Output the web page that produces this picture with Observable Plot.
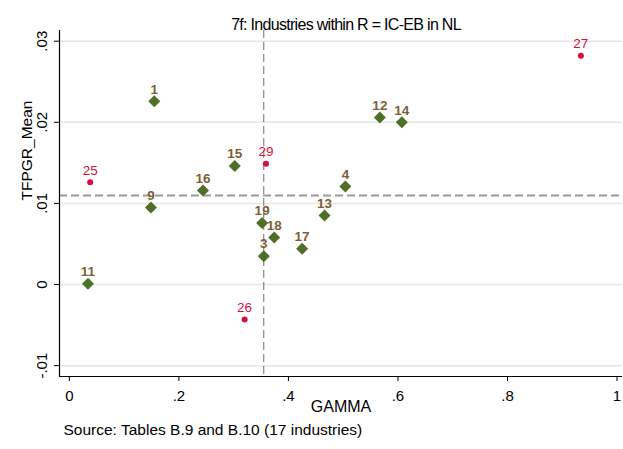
<!DOCTYPE html>
<html>
<head>
<meta charset="utf-8">
<script src="https://cdn.jsdelivr.net/npm/d3@7"></script>
<script src="https://cdn.jsdelivr.net/npm/@observablehq/plot@0.6"></script>
<style>
  html, body { margin: 0; padding: 0; background: #fff; }
  svg { display: block; font-family: "Liberation Sans", Arial, sans-serif; }
</style>
</head>
<body>
<div id="chart"></div>
<script>
// Industries shown as green diamonds
const greenIds   = ["1", "3", "4", "9", "11", "12", "13", "14", "15", "16", "17", "18", "19"];
const greenGamma = [0.155, 0.355, 0.504, 0.149, 0.034, 0.567, 0.466, 0.607, 0.302, 0.244, 0.425, 0.374, 0.352];
const greenTfp   = [0.0226, 0.0035, 0.0121, 0.0095, 0.0001, 0.0206, 0.0085, 0.0200, 0.0146, 0.0116, 0.0044, 0.0058, 0.0076];

// Industries shown as red dots
const redIds   = ["25", "26", "27", "29"];
const redGamma = [0.038, 0.320, 0.934, 0.359];
const redTfp   = [0.0126, -0.0043, 0.0282, 0.0149];

// Reference lines (means)
const refGamma = 0.355;
const refTfp = 0.01097;

// Axes
const xTicks = [0, 0.2, 0.4, 0.6, 0.8, 1];
const xTickLabels = ["0", ".2", ".4", ".6", ".8", "1"];
const yTicks = [-0.01, 0, 0.01, 0.02, 0.03];
const yTickLabels = ["-.01", "0", ".01", ".02", ".03"];
const xDomain = [-0.018, 1.01];
const yDomain = [-0.01134, 0.03132];

const titleText = "7f: Industries within R = IC-EB in NL";
const xLabel = "GAMMA";
const yLabel = "TFPGR_Mean";
const captionText = "Source: Tables B.9 and B.10 (17 industries)";

const green = greenIds.map((id, i) => ({id, x: greenGamma[i], y: greenTfp[i]}));
const red = redIds.map((id, i) => ({id, x: redGamma[i], y: redTfp[i]}));

const font = "Liberation Sans, Arial, sans-serif";

const chart = Plot.plot({
  width: 623,
  height: 449,
  marginLeft: 59,
  marginRight: 1,
  marginTop: 30,
  marginBottom: 73,
  style: {fontFamily: font, background: "#fff"},
  x: {domain: xDomain},
  y: {domain: yDomain},
  marks: [
    // horizontal gridlines
    Plot.ruleY(yTicks, {stroke: "#e6e6e6", strokeWidth: 1.5}),
    // reference lines
    Plot.ruleX([refGamma], {stroke: "#6e6e6e", strokeWidth: 1, strokeDasharray: "8,4"}),
    Plot.ruleY([refTfp], {stroke: "#9a9a9a", strokeWidth: 2, strokeDasharray: "8,4"}),
    // axis lines
    Plot.ruleX([xDomain[0]], {stroke: "#000", strokeWidth: 1.2}),
    Plot.ruleY([yDomain[0]], {stroke: "#000", strokeWidth: 1.2}),
    // axes
    Plot.axisX(xTicks, {tickSize: 5, tickPadding: 9, fontSize: 15, tickFormat: (d) => xTickLabels[xTicks.indexOf(d)], label: null, stroke: "#000", color: "#000"}),
    Plot.axisY(yTicks, {tickSize: 5, tickFormat: () => "", label: null}),
    Plot.text(yTicks, {x: () => xDomain[0], y: d => d, text: (d, i) => yTickLabels[i], rotate: -90, dx: -17, textAnchor: "middle", fontSize: 15, fill: "#000"}),
    // points
    Plot.dot(green, {x: "x", y: "y", symbol: "diamond2", r: 5.4, fill: "#4f6e28", stroke: null}),
    Plot.dot(red, {x: "x", y: "y", r: 3, fill: "#d3103c", stroke: null}),
    Plot.text(green, {x: "x", y: "y", text: "id", dy: -12, fontSize: 13.5, fill: "#7d6135", fontWeight: 600}),
    Plot.text(red, {x: "x", y: "y", text: "id", dy: -12, fontSize: 13.5, fill: "#d3103c"}),
    // labels
    Plot.text([xLabel], {frameAnchor: "bottom", dy: 35, fontSize: 16, fill: "#000"}),
    Plot.text([yLabel], {frameAnchor: "left", rotate: -90, dx: -32, dy: -3, fontSize: 15.5, fill: "#000"}),
    Plot.text([titleText], {frameAnchor: "top", dy: -12, dx: 5, fontSize: 16, fill: "#000"}),
    Plot.text([captionText], {frameAnchor: "bottom-left", dx: 4, dy: 58, textAnchor: "start", fontSize: 15.5, fill: "#000"})
  ]
});
document.getElementById("chart").appendChild(chart);
// Stata-like slightly condensed title
chart.querySelectorAll("text").forEach(t => {
  if (t.textContent === titleText) t.setAttribute("letter-spacing", "-0.7");
});
</script>
</body>
</html>
